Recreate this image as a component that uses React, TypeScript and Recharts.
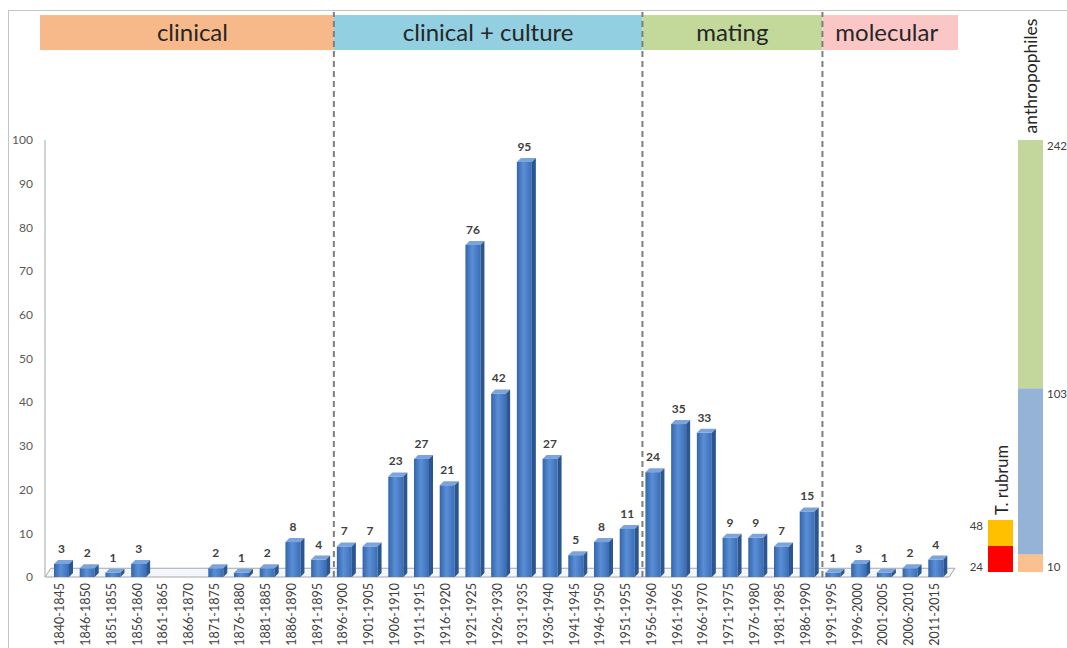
import React from 'react';
import { BarChart, Bar, XAxis, YAxis, ReferenceLine, ReferenceArea, LabelList } from 'recharts';

// five-year periods and number of studies per period
const periods = [
  '1840-1845', '1846-1850', '1851-1855', '1856-1860', '1861-1865', '1866-1870', '1871-1875',
  '1876-1880', '1881-1885', '1886-1890', '1891-1895', '1896-1900', '1901-1905', '1906-1910',
  '1911-1915', '1916-1920', '1921-1925', '1926-1930', '1931-1935', '1936-1940', '1941-1945',
  '1946-1950', '1951-1955', '1956-1960', '1961-1965', '1966-1970', '1971-1975', '1976-1980',
  '1981-1985', '1986-1990', '1991-1995', '1996-2000', '2001-2005', '2006-2010', '2011-2015',
];
const studies = [3, 2, 1, 3, 0, 0, 2, 1, 2, 8, 4, 7, 7, 23, 27, 21, 76, 42, 95, 27, 5, 8, 11, 24, 35, 33, 9, 9, 7, 15, 1, 3, 1, 2, 4];
const yTicks = [0, 10, 20, 30, 40, 50, 60, 70, 80, 90, 100];

// eras: first and last period of each
const eras = ['clinical', 'clinical + culture', 'mating', 'molecular'];
const eraFirst = ['1840-1845', '1896-1900', '1956-1960', '1991-1995'];
const eraLast = ['1891-1895', '1951-1955', '1986-1990', '2011-2015'];
const eraColors = ['#f7b98a', '#92cfe0', '#c3d89b', '#fbc6c6'];

// side bars (cumulative levels)
const rubrumLevels = [24, 48];
const rubrumColors = ['#ff0000', '#ffc000'];
const anthroLevels = [10, 103, 242];
const anthroColors = ['#fac090', '#95b3d7', '#c3d69b'];

const rows = periods.map((p, i) => ({ period: p, n: studies[i] }));

const toSegments = (levels: number[], prefix: string) => {
  const row: Record<string, number | string> = { name: prefix };
  levels.forEach((v, i) => {
    row[prefix + i] = v - (i > 0 ? levels[i - 1] : 0);
  });
  return [row];
};
const rubrumRow = toSegments(rubrumLevels, 'r');
const anthroRow = toSegments(anthroLevels, 'a');

const FONT = 'Lato, "Open Sans", sans-serif';
const Y_MAX = 129.3;

const Bar3D = (props: any) => {
  const { x, y, width, height } = props;
  if (!height || height <= 0) return null;
  const d = 4;
  const fw = width - d;
  const base = y + height;
  return (
    <g>
      <rect x={x} y={y} width={fw} height={height} fill="url(#barFront)" />
      <polygon points={`${x},${y} ${x + d},${y - d} ${x + width},${y - d} ${x + fw},${y}`} fill="#7ba4dc" />
      <polygon points={`${x + fw},${y} ${x + width},${y - d} ${x + width},${base - d} ${x + fw},${base}`} fill="#2c5690" />
    </g>
  );
};

const Floor = (props: any) => {
  const { x, y, width, height } = props;
  return (
    <polygon
      points={`${x - 6},${y + height} ${x + width - 2},${y + height} ${x + width + 4},${y} ${x},${y}`}
      fill="#f3f6fa"
      stroke="#a6a6a6"
      strokeWidth={1}
    />
  );
};

// era band, first one pushed a bit left, last one a bit right
const eraBand = (fill: string, padL: number, padR: number) => (props: any) => {
  const { x, y, width, height } = props;
  return <rect x={x - padL} y={y} width={width + padL + padR} height={height} fill={fill} />;
};

const AxisLine = (props: any) => (
  <line x1={props.x1 - 6} y1={props.y1} x2={props.x2 - 6} y2={props.y2} stroke="#a6a6a6" strokeWidth={1} />
);

const countLabel = (props: any) => {
  const { x, y, width, value } = props;
  if (!value) return null;
  return (
    <text x={x + width / 2 - 2} y={y - 11} textAnchor="middle" fontSize={12} fontWeight={700} fill="#404040" fontFamily={FONT}>
      {value}
    </text>
  );
};

const PeriodTick = (props: any) => {
  const { x, y, payload } = props;
  const tx = x - 4;
  const ty = y + 6;
  return (
    <text x={tx} y={ty} transform={`rotate(-90 ${tx} ${ty})`} textAnchor="end" dominantBaseline="central" fontSize={12.5} fill="#404040" fontFamily={FONT}>
      {payload.value}
    </text>
  );
};

const levelLabel = (text: number, side: 'left' | 'right', bottom: boolean) => (props: any) => {
  const { x, y, width, height } = props;
  const ty = bottom ? y + height - 6 : y + 5;
  return (
    <text
      x={side === 'left' ? x - 5 : x + width + 4}
      y={ty}
      textAnchor={side === 'left' ? 'end' : 'start'}
      dominantBaseline="central"
      fontSize={11.5}
      fill="#404040"
      fontFamily={FONT}
    >
      {text}
    </text>
  );
};

export default function App() {
  return (
    <div style={{ position: 'absolute', left: 0, top: 0, width: 1067, height: 648, background: '#fff', overflow: 'hidden', fontFamily: FONT }}>
      <div style={{ position: 'absolute', left: 8, top: 10, right: 0, bottom: 0, borderLeft: '1px solid #c4c4c4', borderTop: '1px solid #c4c4c4' }} />

      <div style={{ position: 'absolute', left: 0, top: 0 }}>
        <BarChart width={960} height={648} data={rows} margin={{ top: 12, right: 9, left: 0, bottom: 0 }}>
          <defs>
            <linearGradient id="barFront" x1="0" y1="0" x2="1" y2="0">
              <stop offset="0%" stopColor="#3365ab" />
              <stop offset="45%" stopColor="#5a8fd6" />
              <stop offset="100%" stopColor="#3a6db5" />
            </linearGradient>
          </defs>
          <XAxis dataKey="period" interval={0} tick={<PeriodTick />} tickLine={false} axisLine={false} tickSize={0} tickMargin={0} height={71} />
          <YAxis
            domain={[0, Y_MAX]}
            ticks={yTicks}
            axisLine={false}
            tickLine={false}
            tickSize={0}
            tickMargin={18}
            width={51}
            tick={{ fontSize: 12, fill: '#595959', fontFamily: FONT }}
          />
          <ReferenceArea x1={periods[0]} x2={periods[periods.length - 1]} y1={0} y2={2} shape={<Floor />} ifOverflow="visible" />
          <ReferenceLine
            segment={[{ x: periods[0], y: 0 }, { x: periods[0], y: 100 }]}
            position="start"
            shape={AxisLine}
            ifOverflow="visible"
          />
          {eras.map((era, i) => (
            <ReferenceArea
              key={era}
              x1={eraFirst[i]}
              x2={eraLast[i]}
              y1={120.6}
              y2={128.6}
              shape={eraBand(eraColors[i], i === 0 ? 11 : 0, i === eras.length - 1 ? 7 : 0)}
              ifOverflow="visible"
              label={{ value: era, position: 'center', fill: '#262626', fontSize: 24, fontFamily: FONT }}
            />
          ))}
          {eraFirst.slice(1).map((p) => (
            <ReferenceLine key={p} x={p} position="start" stroke="#7f7f7f" strokeWidth={2} strokeDasharray="6 4" />
          ))}
          <Bar dataKey="n" barSize={19} shape={<Bar3D />} isAnimationActive={false}>
            <LabelList dataKey="n" content={countLabel} />
          </Bar>
        </BarChart>
      </div>

      <div style={{ position: 'absolute', left: 958, top: 500 }}>
        <BarChart width={55} height={80} data={rubrumRow} margin={{ top: 20, right: 0, bottom: 8, left: 30 }} barCategoryGap={0}>
          <XAxis dataKey="name" hide />
          <YAxis domain={[0, rubrumLevels[rubrumLevels.length - 1]]} hide />
          {rubrumLevels.map((lv, i) => (
            <Bar key={i} dataKey={'r' + i} stackId="r" fill={rubrumColors[i]} isAnimationActive={false}>
              <LabelList dataKey={'r' + i} content={levelLabel(lv, 'left', i === 0)} />
            </Bar>
          ))}
        </BarChart>
      </div>

      <div style={{ position: 'absolute', left: 1018, top: 120 }}>
        <BarChart width={49} height={460} data={anthroRow} margin={{ top: 20, right: 24, bottom: 8, left: 0 }} barCategoryGap={0}>
          <XAxis dataKey="name" hide />
          <YAxis domain={[0, anthroLevels[anthroLevels.length - 1]]} hide />
          {anthroLevels.map((lv, i) => (
            <Bar key={i} dataKey={'a' + i} stackId="a" fill={anthroColors[i]} isAnimationActive={false}>
              <LabelList dataKey={'a' + i} content={levelLabel(lv, 'right', i === 0)} />
            </Bar>
          ))}
        </BarChart>
      </div>

      <svg width={1067} height={648} style={{ position: 'absolute', left: 0, top: 0, pointerEvents: 'none' }}>
        <text x={1030} y={76} transform="rotate(-90 1030 76)" textAnchor="middle" dominantBaseline="central" fontSize={17.5} fill="#262626" fontFamily={FONT}>
          anthropophiles
        </text>
        <text x={1002} y={480} transform="rotate(-90 1002 480)" textAnchor="middle" dominantBaseline="central" fontSize={16.5} fill="#262626" fontFamily={FONT}>
          T. rubrum
        </text>
      </svg>
    </div>
  );
}
